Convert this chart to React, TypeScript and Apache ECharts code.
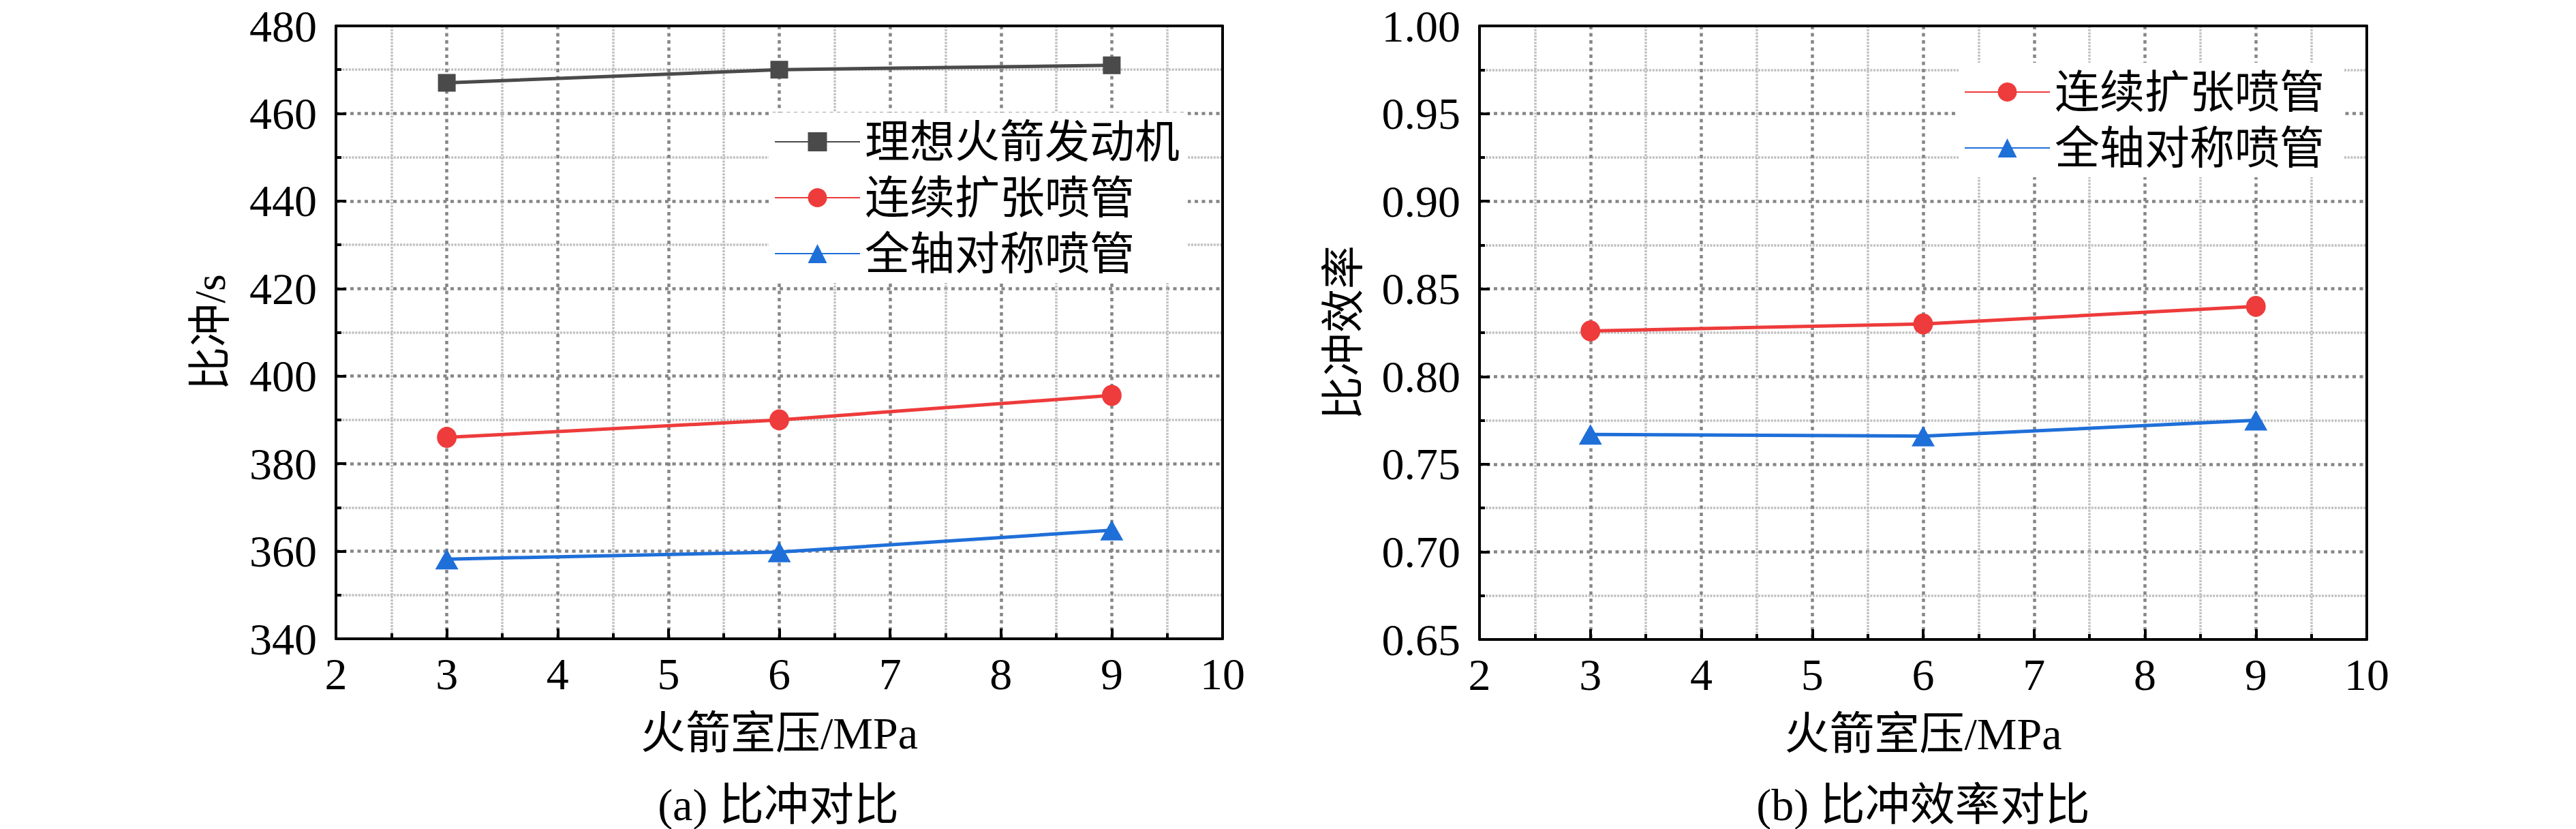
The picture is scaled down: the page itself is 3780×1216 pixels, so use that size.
import React, { useEffect, useRef } from "react";
import * as echarts from "echarts";

const pressures = [3, 6, 9];
const idealIsp = [467, 470, 471];
const contIsp = [386, 390, 395.6];
const axisymIsp = [358.2, 359.8, 364.8];
const contEff = [0.826, 0.83, 0.84];
const axisymEff = [0.767, 0.766, 0.775];

const nameIdeal = "理想火箭发动机";
const nameCont = "连续扩张喷管";
const nameAxisym = "全轴对称喷管";

const xName = "火箭室压/MPa";
const yNameA = "比冲/s";
const yNameB = "比冲效率";
const captionA = "(a) 比冲对比";
const captionB = "(b) 比冲效率对比";

const FONT = "'Liberation Serif', 'Noto Sans CJK SC', serif";
const GRAY = "#4a4a4a";
const RED = "#ee3b3b";
const BLUE = "#1f6fd8";

function pairs(xs: number[], ys: number[]) {
  return xs.map((x, i) => [x, ys[i]]);
}

export default function App() {
  const ref = useRef<HTMLDivElement>(null);
  useEffect(() => {
    if (!ref.current) return;
    const chart = echarts.init(ref.current, undefined, { renderer: "svg" });

    const grids = [
      { left: 493, top: 38, width: 1301, height: 899 },
      { left: 2171, top: 38, width: 1302, height: 900 },
    ];

    const majorGrid = {
      show: true,
      showMinLine: false,
      showMaxLine: false,
      lineStyle: { color: "#868686", width: 4.5, type: [5, 5.5] },
    };
    const minorGrid = { show: true, lineStyle: { color: "#c0c0c0", width: 3.5, type: [3, 1.7] } };

    const mainX = (gi: number) => ({
      type: "value",
      gridIndex: gi,
      min: 2,
      max: 10,
      interval: 1,
      position: "bottom",
      name: xName,
      nameLocation: "middle",
      nameGap: 105,
      nameTextStyle: { fontFamily: FONT, fontSize: 66, color: "#000" },
      axisLine: { show: true, lineStyle: { color: "#000", width: 4 } },
      axisTick: { show: true, inside: true, length: 15, lineStyle: { color: "#000", width: 4 } },
      minorTick: { show: true, splitNumber: 2, length: 8, lineStyle: { color: "#000", width: 4 } },
      axisLabel: { show: true, margin: 18, fontFamily: FONT, fontSize: 66, color: "#000" },
      splitLine: majorGrid,
      minorSplitLine: minorGrid,
    });

    const frameX = (gi: number) => ({
      type: "value",
      gridIndex: gi,
      min: 2,
      max: 10,
      interval: 1,
      position: "top",
      z: 3,
      axisLine: { show: true, lineStyle: { color: "#000", width: 4 } },
      axisTick: { show: false },
      axisLabel: { show: false },
      splitLine: { show: false },
    });

    const mainY = (gi: number, min: number, max: number, interval: number, name: string, gap: number, dec: number) => ({
      type: "value",
      gridIndex: gi,
      min,
      max,
      interval,
      position: "left",
      name,
      nameLocation: "middle",
      nameGap: gap,
      nameRotate: 90,
      nameTextStyle: { fontFamily: FONT, fontSize: 64, color: "#000" },
      axisLine: { show: true, lineStyle: { color: "#000", width: 4 } },
      axisTick: { show: true, inside: true, length: 15, lineStyle: { color: "#000", width: 4 } },
      minorTick: { show: true, splitNumber: 2, length: 8, lineStyle: { color: "#000", width: 4 } },
      axisLabel: {
        show: true,
        margin: 28,
        fontFamily: FONT,
        fontSize: 66,
        color: "#000",
        formatter: (v: number) => v.toFixed(dec),
      },
      splitLine: majorGrid,
      minorSplitLine: minorGrid,
    });

    const frameY = (gi: number, min: number, max: number, interval: number) => ({
      type: "value",
      gridIndex: gi,
      min,
      max,
      interval,
      position: "right",
      z: 3,
      axisLine: { show: true, lineStyle: { color: "#000", width: 4 } },
      axisTick: { show: false },
      axisLabel: { show: false },
      splitLine: { show: false },
    });

    const lineSeries = (
      name: string,
      data: number[][],
      color: string,
      symbol: string,
      size: number | number[],
      xi: number,
      yi: number
    ) => ({
      type: "line",
      name,
      data,
      xAxisIndex: xi,
      yAxisIndex: yi,
      symbol,
      symbolSize: size,
      showSymbol: true,
      lineStyle: { color, width: 5 },
      itemStyle: { color },
      z: 2,
    });

    const legendCommon = {
      orient: "vertical",
      itemWidth: 125,
      itemHeight: 35,
      itemGap: 16,
      backgroundColor: "#fff",
      textStyle: { fontFamily: FONT, fontSize: 66, color: "#000", padding: [0, 0, 0, 2] },
      padding: [10, 12, 10, 8],
    };

    chart.setOption({
      animation: false,
      backgroundColor: "#fff",
      grid: grids,
      xAxis: [mainX(0), frameX(0), mainX(1), frameX(1)],
      yAxis: [
        mainY(0, 340, 480, 20, yNameA, 153, 0),
        frameY(0, 340, 480, 20),
        mainY(1, 0.65, 1.0, 0.05, yNameB, 168, 2),
        frameY(1, 0.65, 1.0, 0.05),
      ],
      legend: [
        {
          ...legendCommon,
          left: 1128,
          top: 165,
          data: [nameIdeal, nameCont, nameAxisym].map((n) => ({ name: n })),
        },
        {
          ...legendCommon,
          left: 2874,
          top: 92,
          data: [nameCont + " ", nameAxisym + " "].map((n) => ({ name: n })),
        },
      ],
      series: [
        lineSeries(nameIdeal, pairs(pressures, idealIsp), GRAY, "rect", 26, 0, 0),
        lineSeries(nameCont, pairs(pressures, contIsp), RED, "circle", [29, 31], 0, 0),
        lineSeries(nameAxisym, pairs(pressures, axisymIsp), BLUE, "triangle", [34, 30], 0, 0),
        lineSeries(nameCont + " ", pairs(pressures, contEff), RED, "circle", [29, 31], 2, 2),
        lineSeries(nameAxisym + " ", pairs(pressures, axisymEff), BLUE, "triangle", [34, 30], 2, 2),
      ],
      graphic: [
        {
          type: "text",
          x: 1142,
          y: 1180,
          style: {
            text: captionA,
            fontFamily: FONT,
            fontSize: 66,
            fill: "#000",
            textAlign: "center",
            textVerticalAlign: "middle",
          },
        },
        {
          type: "text",
          x: 2822,
          y: 1180,
          style: {
            text: captionB,
            fontFamily: FONT,
            fontSize: 66,
            fill: "#000",
            textAlign: "center",
            textVerticalAlign: "middle",
          },
        },
      ],
    });

    return () => {
      chart.dispose();
    };
  }, []);

  return (
    <div
      ref={ref}
      style={{ position: "absolute", left: 0, top: 0, width: 3780, height: 1216, background: "#fff" }}
    />
  );
}
